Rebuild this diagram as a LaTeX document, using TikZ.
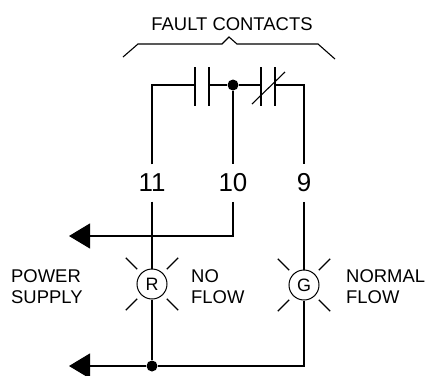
\documentclass[tikz,border=0pt]{standalone}
\usepackage{fontspec}
\setmainfont{Liberation Sans}
\usetikzlibrary{arrows.meta}
\tikzstyle{wire}=[draw,line width=1.1bp]
\tikzstyle{lamp}=[circle,draw,line width=1bp,minimum size=30bp,inner sep=0pt,font=\fontsize{18}{18}\selectfont]
\tikzstyle{dot}=[circle,fill=black,minimum size=11bp,inner sep=0pt]
\tikzstyle{num}=[inner xsep=0pt,inner ysep=9.5bp,font=\fontsize{26}{26}\selectfont]
\tikzstyle{txt}=[inner sep=0pt,align=left,font=\fontsize{18.5}{21}\selectfont]
\tikzstyle{tip}=[-{Triangle[length=21bp,width=25bp]}]

\begin{document}
\begin{tikzpicture}[x=1bp,y=-1bp]
      \useasboundingbox (0,0) rectangle (427,376);
      \node[txt,anchor=base] (fc) at (232,30) {FAULT CONTACTS};
      \draw[wire] (123,57) -- (138,44) -- (222,44) -- (229,37) -- (237,44) -- (318,44) -- (335,59);
      \coordinate (tl) at (152,85);
      \coordinate (tr) at (304,85);
      \foreach \x/\id in {195/c1,209/c2,261/c3,275/c4}{
        \coordinate (\id) at (\x,85);
        \draw[wire] (\x,67) -- (\x,106);
      }
      \draw[wire] (252,104) -- (285,72);
      \node[dot] (j) at (233,85) {};
      \foreach \x/\id in {152/11,233/10,304/9}{
        \node[num] (n\id) at (\x,183) {\id};
      }
      \node[lamp] (R) at (152,284) {R};
      \node[lamp] (G) at (304,285) {G};
      \node[dot] (b) at (152,366) {};
      \coordinate (a1) at (69,236);
      \coordinate (a2) at (69,366);
      \foreach \l in {R,G}{
        \foreach \a in {45,135,225,315}{
          \draw[wire] (\l.center) ++(\a:21) -- ++(\a:16);
        }
      }
      \draw[wire] (n11) -- (tl) -- (c1);
      \draw[wire] (c2) -- (j) -- (c3);
      \draw[wire] (c4) -- (tr) -- (n9);
      \draw[wire] (j) -- (n10);
      \draw[wire] (n11) -- (R);
      \draw[wire] (R) -- (b);
      \draw[wire] (n9) -- (G);
      \draw[wire] (G) |- (b);
      \draw[wire,tip] (n10) |- (a1);
      \draw[wire,tip] (b) -- (a2);
      \node[txt,anchor=west] (ps) at (11,286.5) {POWER\\SUPPLY};
      \node[txt,anchor=west] (nf) at (191,286.5) {NO\\FLOW};
      \node[txt,anchor=west] (nm) at (346,286.5) {NORMAL\\FLOW};
    \end{tikzpicture}
\end{document}
